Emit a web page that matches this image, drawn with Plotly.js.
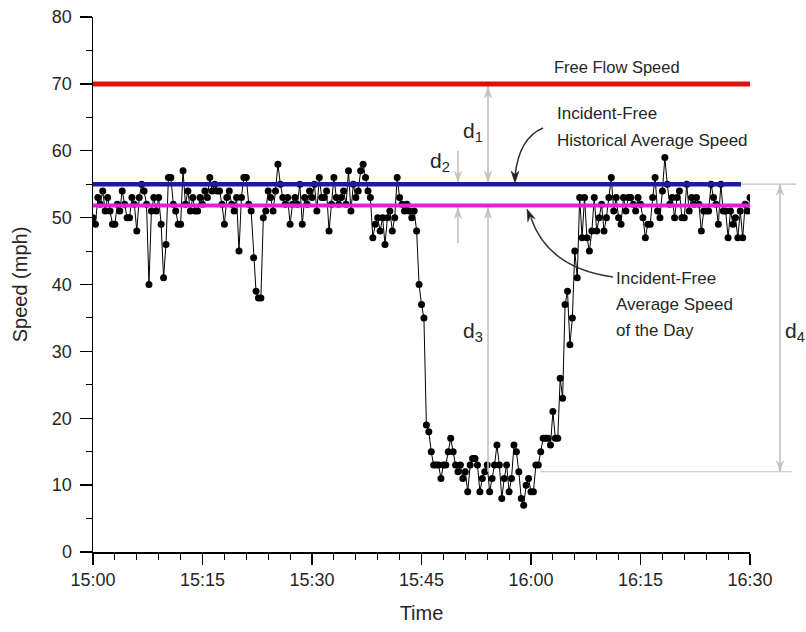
<!DOCTYPE html>
<html>
<head>
<meta charset="utf-8">
<script src="https://cdn.plot.ly/plotly-3.0.1.min.js"></script>
<style>html,body{margin:0;padding:0;background:#fff;}#chart{width:806px;height:632px;}</style>
</head>
<body>
<div id="chart"></div>
<script>
// ---- data ----
const startTime = '2000-01-01 15:00:00';
const sampleIntervalMs = 20000; // 20-second samples
const speed = [
  50,49,53, 52,54,51, 53,51,49, 49,52,51, 54,52,50, 50,53,52, 48,53,55, 54,52,40,
  51,53,51, 53,49,41, 46,56,56, 52,51,49, 49,57,52, 54,51,53, 51,51,53, 52,54,53,
  56,54,55, 54,54,52, 49,53,54, 52,51,53, 45,53,56, 56,52,51, 44,39,38, 38,50,51,
  54,53,51, 54,58,55, 53,52,53, 49,52,53, 52,55,49, 53,52,54, 53,55,51, 56,53,53,
  54,48,52, 56,53,52, 53,54,52, 57,51,55, 53,54,57, 58,56,54, 53,47,49, 50,48,50,
  46,50,51, 48,50,56, 53,52,51, 52,51,50, 51,48,40, 37,35,19, 18,15,13, 13,13,11,
  13,13,15, 17,15,13, 12,13,11, 12,9,13, 14,14,13, 9,11,12, 13,9,11, 13,16,13,
  8,11,13, 9,11,16, 15,12,8, 7,10,11, 9,9,13, 13,15,17, 17,17,16, 21,17,17,
  26,23,37, 39,31,35, 45,41,53, 47,53,47, 45,48,53, 48,50,52, 48,50,53, 56,51,53,
  50,49,53, 51,53,53, 52,51,53, 52,50,47, 49,49,53, 56,51,50, 54,59,55, 52,53,50,
  53,54,50, 50,55,51, 53,52,53, 52,48,51, 51,51,55, 53,52,49, 55,51,51, 47,51,49,
  50,47,51, 47,52,51, 53
];
const freeFlowSpeed = 70;
const histAvgSpeed = 55;
const dayAvgSpeed = 51.8;
const incidentSpeed = 12;
const xRange = ['2000-01-01 15:00:00', '2000-01-01 16:30:00'];
const yRange = [0, 80];

// ---- helpers for decorations (pixel -> paper) ----
const L = 93, R = 750, T = 17, B = 552;
const PX = p => (p - L) / (R - L);
const PY = p => (B - p) / (B - T);
const VY = v => B - (v - yRange[0]) * (B - T) / (yRange[1] - yRange[0]); // value -> pixel y

const grey = '#c2c2c2';
const txt = '#262626';
const font = 'Liberation Sans, Arial, sans-serif';

const trace = {
  type: 'scatter', mode: 'lines+markers',
  x0: startTime, dx: sampleIntervalMs, y: speed,
  line: {color: '#000', width: 1},
  marker: {color: '#000', size: 7},
  hoverinfo: 'x+y', showlegend: false
};

const hline = (y, x0, x1, color, w, ref) => ({
  type: 'line', xref: ref || 'x', yref: 'y', x0: x0, x1: x1, y0: y, y1: y,
  line: {color: color, width: w}
});
const vline = (px, v0, v1) => ({
  type: 'line', xref: 'paper', yref: 'y', x0: PX(px), x1: PX(px), y0: v0, y1: v1,
  line: {color: grey, width: 1.6}
});
// arrowhead triangle: tip at pixel (tx,ty), pointing along unit direction (dx,dy)
const head = (tx, ty, dx, dy, color, len, half) => {
  len = len || 11; half = half || 3.6;
  const n = Math.hypot(dx, dy); dx /= n; dy /= n;
  const bx = tx - dx * len, by = ty - dy * len;
  const mx = tx - dx * len * 0.7, my = ty - dy * len * 0.7;
  const p1 = [bx - dy * half, by + dx * half], p2 = [bx + dy * half, by - dx * half];
  return {
    type: 'path', xref: 'paper', yref: 'paper',
    path: `M ${PX(tx)} ${PY(ty)} L ${PX(p1[0])} ${PY(p1[1])} L ${PX(mx)} ${PY(my)} L ${PX(p2[0])} ${PY(p2[1])} Z`,
    fillcolor: color, line: {color: color, width: 0.5}
  };
};

const shapes = [
  hline(histAvgSpeed, PX(740), PX(796), grey, 1.2, 'paper'),
  hline(incidentSpeed, PX(540), PX(792), grey, 1.2, 'paper'),
  vline(458, 60, histAvgSpeed),
  vline(458, dayAvgSpeed, 46.2),
  vline(488, freeFlowSpeed, histAvgSpeed),
  vline(488, dayAvgSpeed, incidentSpeed),
  vline(780, histAvgSpeed, incidentSpeed),
  head(458, VY(histAvgSpeed) - 2, 0, 1, grey),
  head(458, VY(dayAvgSpeed) + 2, 0, -1, grey),
  head(488, VY(histAvgSpeed) - 2, 0, 1, grey),
  head(488, VY(freeFlowSpeed) + 3, 0, -1, grey),
  head(488, VY(dayAvgSpeed) + 2, 0, -1, grey),
  head(780, VY(histAvgSpeed), 0, -1, grey),
  head(780, VY(incidentSpeed), 0, 1, grey),
  hline(freeFlowSpeed, xRange[0], xRange[1], '#e01010', 5),
  hline(histAvgSpeed, 0, PX(741), '#1c1c98', 4.5, 'paper'),
  hline(dayAvgSpeed, xRange[0], xRange[1], '#e020e0', 4),
  {type: 'path', xref: 'paper', yref: 'paper',
   path: `M ${PX(543)} ${PY(128)} Q ${PX(519)} ${PY(138)} ${PX(515)} ${PY(176)}`,
   line: {color: '#333', width: 1.5}},
  {type: 'path', xref: 'paper', yref: 'paper',
   path: `M ${PX(613)} ${PY(277)} Q ${PX(548)} ${PY(268)} ${PX(531)} ${PY(218)}`,
   line: {color: '#333', width: 1.5}},
  head(515, 183, 0, 1, '#222', 12, 4),
  head(527, 209, -0.4, -1, '#222', 12, 4)
];

const label = (xp, yp, text, size, anchor) => ({
  xref: 'paper', yref: 'paper', x: xp, y: yp, text: text, showarrow: false,
  xanchor: anchor || 'left', yanchor: 'middle',
  font: {family: font, size: size || 17, color: txt}
});

const annotations = [
  label(PX(617), PY(67), 'Free Flow Speed', 16.5, 'center'),
  label(PX(555), PY(114), 'Incident-Free', 17),
  label(PX(555), PY(140), 'Historical Average Speed', 17),
  label(PX(614), PY(278), 'Incident-Free', 17),
  label(PX(614), PY(304), 'Average Speed', 17),
  label(PX(614), PY(330), 'of the Day', 17),
  label(PX(461), PY(132), 'd<sub>1</sub>', 21),
  label(PX(428), PY(162), 'd<sub>2</sub>', 21),
  label(PX(461), PY(332), 'd<sub>3</sub>', 21),
  label(PX(783), PY(332), 'd<sub>4</sub>', 21)
];

const layout = {
  width: 806, height: 632,
  margin: {l: L, r: 806 - R, t: T, b: 632 - B},
  paper_bgcolor: '#fff', plot_bgcolor: '#fff',
  font: {family: font, color: txt},
  showlegend: false,
  xaxis: {
    type: 'date', range: xRange, dtick: 900000, tick0: xRange[0], tickformat: '%H:%M',
    ticks: 'outside', ticklen: 11, tickwidth: 1.3, tickcolor: '#000',
    minor: {dtick: 180000, ticks: 'outside', ticklen: 6, tickwidth: 1, tickcolor: '#000'},
    showline: true, linecolor: '#000', linewidth: 1.5, showgrid: false, zeroline: false,
    tickfont: {family: font, size: 18, color: txt},
    title: {text: 'Time', font: {family: font, size: 20, color: txt}, standoff: 17},
    fixedrange: true
  },
  yaxis: {
    range: yRange, dtick: 10, tick0: 0,
    ticks: 'outside', ticklen: 12, tickwidth: 1.3, tickcolor: '#000',
    minor: {dtick: 5, ticks: 'outside', ticklen: 6, tickwidth: 1, tickcolor: '#000'},
    showline: true, linecolor: '#000', linewidth: 1.5, showgrid: false, zeroline: false,
    tickfont: {family: font, size: 18, color: txt}, ticklabelstandoff: 4,
    title: {text: 'Speed (mph)', font: {family: font, size: 20, color: txt}, standoff: 19},
    fixedrange: true
  },
  shapes: shapes,
  annotations: annotations
};

Plotly.newPlot('chart', [trace], layout, {displayModeBar: false, staticPlot: true});
</script>
</body>
</html>
